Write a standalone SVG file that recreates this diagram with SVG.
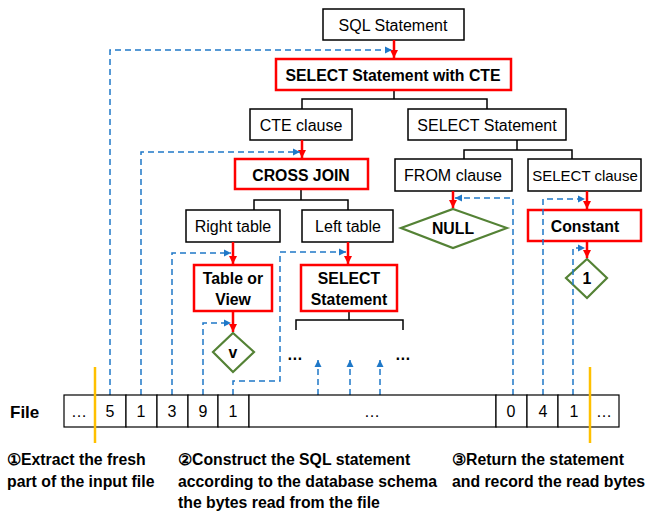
<svg xmlns="http://www.w3.org/2000/svg" width="645" height="512" viewBox="0 0 645 512">
  <defs>
    <marker id="redHead" markerWidth="10" markerHeight="10" refX="8" refY="5" orient="auto" markerUnits="userSpaceOnUse">
      <path d="M0,1 L8,5 L0,9 Z" fill="#ff0000"/>
    </marker>
    <marker id="blueHead" markerWidth="9" markerHeight="8" refX="7" refY="4" orient="auto" markerUnits="userSpaceOnUse">
      <path d="M0,0.5 L7,4 L0,7.5 Z" fill="#1f78c8"/>
    </marker>
  </defs>
  <style>
    text { font-family: "Liberation Sans", Arial, sans-serif; fill: #000; }
    .lbl { font-size: 16px; text-anchor: middle; dominant-baseline: central; }
    .b { font-weight: bold; font-size: 15.8px; }
    .box { fill: #fff; stroke: #000; stroke-width: 1.5; }
    .rbox { fill: #fff; stroke: #ff0000; stroke-width: 2.5; }
    .dia { fill: #fff; stroke: #548235; stroke-width: 2.2; }
    .tree { fill: none; stroke: #000; stroke-width: 1.5; }
    .red { fill: none; stroke: #ff0000; stroke-width: 2.5; marker-end: url(#redHead); }
    .blue { fill: none; stroke: #1f78c8; stroke-width: 1.5; stroke-dasharray: 6 4; marker-end: url(#blueHead); }
    .cell { fill: #fff; stroke: #000; stroke-width: 1.2; }
    .yellow { stroke: #ffc000; stroke-width: 2.5; }
    .note { font-size: 15.8px; font-weight: bold; }
  </style>

  <!-- tree brackets -->
  <g id="brackets">
    <path class="tree" d="M394,90 V99 M302,109 V99 H487 V109"/>
    <path class="tree" d="M517,140 V150 M464,159 V150 H572 V159"/>
    <path class="tree" d="M301,189 V200 M254,210 V200 H348 V210"/>
    <path class="tree" d="M349,311 V320 M296,330 V320 H403 V330"/>
  </g>

  <!-- nodes -->
  <g id="sql-statement">
    <rect class="box" x="323" y="9" width="141" height="31"/>
    <text class="lbl" x="393" y="25">SQL Statement</text>
  </g>
  <g id="select-with-cte">
    <rect class="rbox" x="276" y="59" width="235" height="31"/>
    <text class="lbl b" x="393" y="75">SELECT Statement with CTE</text>
  </g>
  <g id="cte-clause">
    <rect class="box" x="250" y="109" width="102" height="31"/>
    <text class="lbl" x="301" y="125">CTE clause</text>
  </g>
  <g id="select-statement">
    <rect class="box" x="408" y="109" width="158" height="31"/>
    <text class="lbl" x="487" y="125">SELECT Statement</text>
  </g>
  <g id="cross-join">
    <rect class="rbox" x="235" y="159" width="133" height="30"/>
    <text class="lbl b" x="301" y="175">CROSS JOIN</text>
  </g>
  <g id="from-clause">
    <rect class="box" x="395" y="159" width="117" height="32"/>
    <text class="lbl" x="453" y="175">FROM clause</text>
  </g>
  <g id="select-clause">
    <rect class="box" x="528" y="159" width="113" height="32"/>
    <text class="lbl" x="585" y="175" style="font-size:15px">SELECT clause</text>
  </g>
  <g id="right-table">
    <rect class="box" x="186" y="210" width="94" height="32"/>
    <text class="lbl" x="233" y="226">Right table</text>
  </g>
  <g id="left-table">
    <rect class="box" x="302" y="210" width="91" height="32"/>
    <text class="lbl" x="348" y="226">Left table</text>
  </g>
  <g id="null">
    <polygon class="dia" points="453,209 507,228 453,248 401,228"/>
    <text class="lbl b" x="453" y="228">NULL</text>
  </g>
  <g id="constant">
    <rect class="rbox" x="528" y="210" width="113" height="31"/>
    <text class="lbl b" x="585" y="226">Constant</text>
  </g>
  <g id="table-or-view">
    <rect class="rbox" x="194" y="265" width="78" height="46"/>
    <text class="lbl b" x="233" y="278">Table or</text>
    <text class="lbl b" x="233" y="299">View</text>
  </g>
  <g id="select-sub">
    <rect class="rbox" x="301" y="265" width="96" height="46"/>
    <text class="lbl b" x="349" y="278">SELECT</text>
    <text class="lbl b" x="349" y="299">Statement</text>
  </g>
  <g id="v">
    <polygon class="dia" points="233,333 254,352 233,372 213,352"/>
    <text class="lbl b" x="233" y="352">v</text>
  </g>
  <g id="one">
    <polygon class="dia" points="587,259 607,278 587,298 566,278"/>
    <text class="lbl b" x="587" y="278">1</text>
  </g>
  <g id="ellipses">
    <text class="lbl b" x="295" y="354">…</text>
    <text class="lbl b" x="403" y="354">…</text>
  </g>

  <!-- connectors -->
  <g id="connectors">
    <!-- derivation steps -->
    <path class="red" d="M394,40 V58"/>
    <path class="red" d="M302,140 V158"/>
    <path class="red" d="M453,191 V208"/>
    <path class="red" d="M587,191 V209"/>
    <path class="red" d="M233,242 V264"/>
    <path class="red" d="M348,242 V264"/>
    <path class="red" d="M233,311 V332"/>
    <path class="red" d="M587,241 V258"/>
    <!-- bytes consumed from the file -->
    <path class="blue" d="M110,395 V50 H392"/>
    <path class="blue" d="M141,395 V152 H300"/>
    <path class="blue" d="M172,395 V253 H231"/>
    <path class="blue" d="M203,395 V323 H231"/>
    <path class="blue" d="M233,395 V381 H280 V252 H346"/>
    <path class="blue" d="M318,395 V360"/>
    <path class="blue" d="M350,395 V360"/>
    <path class="blue" d="M380,395 V360"/>
    <path class="blue" d="M513,395 V198 H455"/>
    <path class="blue" d="M543,395 V199 H585"/>
    <path class="blue" d="M573,395 V248 H585"/>
  </g>

  <!-- input file -->
  <g id="file">
    <text x="10" y="418" style="font-size:17px;font-weight:bold">File</text>
    <rect class="cell" x="64" y="395" width="31" height="32"/>
    <rect class="cell" x="95" y="395" width="31" height="32"/>
    <rect class="cell" x="126" y="395" width="31" height="32"/>
    <rect class="cell" x="157" y="395" width="31" height="32"/>
    <rect class="cell" x="188" y="395" width="30" height="32"/>
    <rect class="cell" x="218" y="395" width="31" height="32"/>
    <rect class="cell" x="249" y="395" width="247" height="32"/>
    <rect class="cell" x="496" y="395" width="31" height="32"/>
    <rect class="cell" x="527" y="395" width="31" height="32"/>
    <rect class="cell" x="558" y="395" width="32" height="32"/>
    <rect class="cell" x="590" y="395" width="29" height="32"/>
    <text class="lbl" x="79" y="411">…</text>
    <text class="lbl" x="110" y="411">5</text>
    <text class="lbl" x="141" y="411">1</text>
    <text class="lbl" x="172" y="411">3</text>
    <text class="lbl" x="203" y="411">9</text>
    <text class="lbl" x="233" y="411">1</text>
    <text class="lbl" x="372" y="411">…</text>
    <text class="lbl" x="511" y="411">0</text>
    <text class="lbl" x="543" y="411">4</text>
    <text class="lbl" x="574" y="411">1</text>
    <text class="lbl" x="604" y="411">…</text>
    <line class="yellow" x1="95" y1="367" x2="95" y2="443"/>
    <line class="yellow" x1="590" y1="367" x2="590" y2="443"/>
  </g>

  <!-- step notes -->
  <g id="notes">
    <text class="note" x="7" y="465">①Extract the fresh</text>
    <text class="note" x="7" y="487">part of the input file</text>
    <text class="note" x="178" y="465">②Construct the SQL statement</text>
    <text class="note" x="178" y="487">according to the database schema</text>
    <text class="note" x="178" y="508">the bytes read from the file</text>
    <text class="note" x="452" y="465">③Return the statement</text>
    <text class="note" x="452" y="487">and record the read bytes</text>
  </g>
</svg>
